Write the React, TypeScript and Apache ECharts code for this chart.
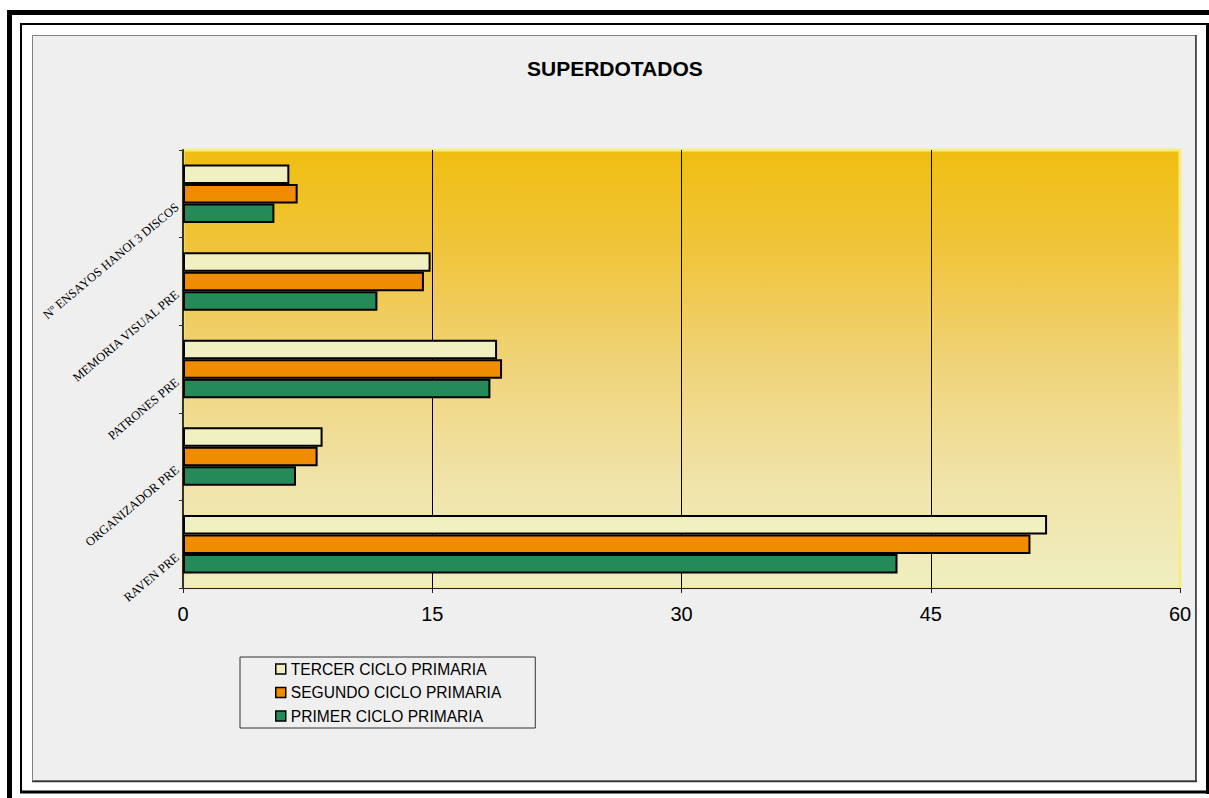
import React, { useEffect, useRef } from "react";
import * as echarts from "echarts";

const categories = [
  "RAVEN PRE",
  "ORGANIZADOR PRE",
  "PATRONES PRE",
  "MEMORIA VISUAL PRE",
  "Nº ENSAYOS HANOI 3 DISCOS",
];
const tercerCiclo = [52.0, 8.4, 18.9, 14.9, 6.4];
const segundoCiclo = [51.0, 8.1, 19.2, 14.5, 6.9];
const primerCiclo = [43.0, 6.8, 18.5, 11.7, 5.5];
const seriesNames = ["TERCER CICLO PRIMARIA", "SEGUNDO CICLO PRIMARIA", "PRIMER CICLO PRIMARIA"];
const seriesColors = ["#f0f0c0", "#f08c00", "#238a58"];
const title = "SUPERDOTADOS";

export default function App() {
  const ref = useRef<HTMLDivElement>(null);
  useEffect(() => {
    if (!ref.current) return;
    const chart = echarts.init(ref.current, null, { renderer: "svg" });
    const values = [tercerCiclo, segundoCiclo, primerCiclo];
    chart.setOption({
      animation: false,
      backgroundColor: "#ffffff",
      title: {
        text: title,
        left: 527,
        top: 58,
        padding: 0,
        textStyle: { fontFamily: "Liberation Sans, Arial", fontWeight: "bold", fontSize: 21, color: "#000" },
      },
      graphic: [
        { type: "rect", z: -10, silent: true, shape: { x: 9.5, y: 12.5, width: 1400, height: 1000 }, style: { fill: "none", stroke: "#000", lineWidth: 5 } },
        { type: "rect", z: -10, silent: true, shape: { x: 21, y: 24, width: 1186.5, height: 768 }, style: { fill: "none", stroke: "#000", lineWidth: 2 } },
        { type: "line", z: -10, silent: true, shape: { x1: 1207.5, y1: 23, x2: 1207.5, y2: 794 }, style: { stroke: "#000", lineWidth: 3 } },
        { type: "line", z: -10, silent: true, shape: { x1: 20, y1: 792, x2: 1209, y2: 792 }, style: { stroke: "#000", lineWidth: 3 } },
        { type: "rect", z: -10, silent: true, shape: { x: 32.5, y: 35.5, width: 1163, height: 745 }, style: { fill: "#efefef", stroke: "#808080", lineWidth: 1 } },
        { type: "line", z: -10, silent: true, shape: { x1: 1196, y1: 35, x2: 1196, y2: 782 }, style: { stroke: "#333", lineWidth: 1.5 } },
        { type: "line", z: -10, silent: true, shape: { x1: 32, y1: 781.5, x2: 1197, y2: 781.5 }, style: { stroke: "#333", lineWidth: 1.5 } },
      ],
      legend: {
        orient: "vertical",
        left: 240,
        top: 657,
        data: seriesNames,
        icon: "rect",
        itemWidth: 10,
        itemHeight: 10,
        itemGap: 7.5,
        padding: [4, 34, 4, 35],
        backgroundColor: "#efefef",
        borderColor: "#333",
        borderWidth: 1,
        itemStyle: { borderColor: "#000", borderWidth: 1.5 },
        textStyle: { fontFamily: "Liberation Sans, Arial", fontSize: 15.6, color: "#000" },
      },
      grid: {
        left: 183,
        right: 29,
        top: 150,
        bottom: 210,
        show: true,
        borderColor: "#f4ee80",
        borderWidth: 3,
        backgroundColor: new echarts.graphic.LinearGradient(0, 0, 0, 1, [
          { offset: 0, color: "#f0be10" },
          { offset: 0.25, color: "#f0c540" },
          { offset: 0.5, color: "#f0d47c" },
          { offset: 0.75, color: "#f0e3a8" },
          { offset: 1, color: "#f0eec0" },
        ]),
      },
      xAxis: {
        type: "value",
        min: 0,
        max: 60,
        interval: 15,
        axisLine: { show: true, lineStyle: { color: "#222", width: 1 } },
        axisTick: { show: true, length: 5, lineStyle: { color: "#222" } },
        axisLabel: { fontFamily: "Liberation Sans, Arial", fontSize: 20, color: "#000", margin: 16 },
        splitLine: { show: true, showMinLine: false, showMaxLine: false, lineStyle: { color: "#000", width: 1 } },
      },
      yAxis: {
        type: "category",
        data: categories,
        axisLine: { show: true, lineStyle: { color: "#333", width: 2 } },
        axisTick: { show: true, length: 4, lineStyle: { color: "#333" } },
        axisLabel: {
          rotate: 40,
          fontFamily: "Liberation Serif, Times New Roman",
          fontSize: 12.5,
          color: "#000",
          margin: 5,
          verticalAlign: "top",
          padding: [2, 8, 0, 0],
        },
      },
      series: seriesNames.map((name, i) => ({
        name,
        type: "bar",
        data: values[i],
        barWidth: 19.5,
        barGap: "0%",
        itemStyle: { color: seriesColors[i], borderColor: "#000", borderWidth: 2 },
      })),
    });
    return () => chart.dispose();
  }, []);
  return <div ref={ref} style={{ position: "fixed", left: 0, top: 0, width: 1209, height: 798 }} />;
}
